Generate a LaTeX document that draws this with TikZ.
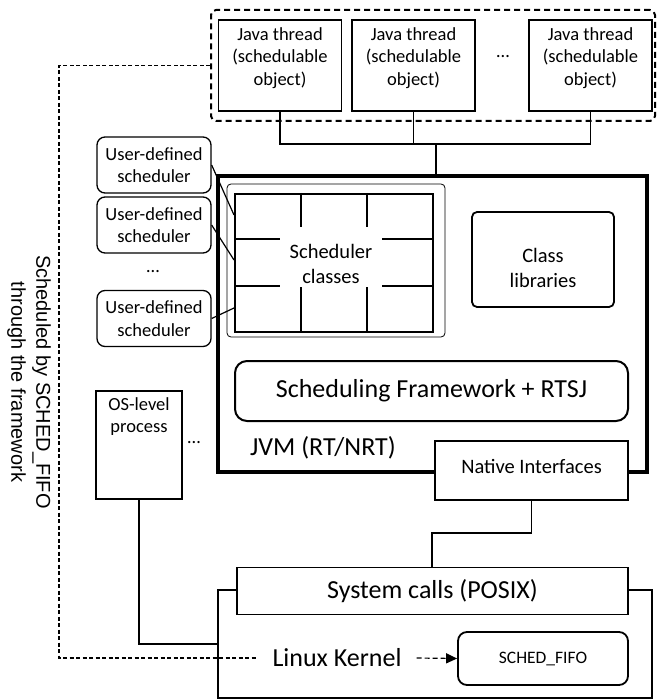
\documentclass[tikz,border=0pt]{standalone}
\usepackage{fontspec}
\setmainfont{Carlito}
\newfontfamily\arialfont{Liberation Sans}
\usetikzlibrary{positioning}
\usetikzlibrary{arrows.meta}

\newcommand{\sizeS}{\fontsize{18.5}{22.5}\selectfont}
\newcommand{\sizeM}{\fontsize{20.5}{25}\selectfont}
\newcommand{\sizeL}{\fontsize{26}{30}\selectfont}

\tikzset{
	jbox/.style={draw, line width=1.6pt, minimum width=123pt, minimum height=91pt, inner sep=0pt},
	jtext/.style={align=center, font=\sizeS, inner sep=2pt},
	ubox/.style={draw, rounded corners=8pt, line width=1.3pt, minimum width=114pt, minimum height=56pt, align=center, inner sep=0pt, font=\sizeS},
	plain/.style={draw, line width=1.8pt, inner sep=0pt},
	link/.style={line width=1.2pt}
}

\begin{document}
\begin{tikzpicture}[x=1pt, y=-1pt]
	\useasboundingbox (0,0) rectangle (657,700);

	\node[draw, dash pattern=on 6pt off 4pt, line width=2pt, rounded corners=5pt, minimum width=444pt, minimum height=111pt] (jt) at (433,65.5) {};
	\node[jbox] (t1) at (280,65.5) {};
	\node[jbox] (t2) at (413.5,65.5) {};
	\node[jbox] (t3) at (590.5,65.5) {};
	\node[jtext, below=6pt of t1.north] (t1txt) {Java thread\\(schedulable\\object)};
	\node[jtext, below=6pt of t2.north] (t2txt) {Java thread\\(schedulable\\object)};
	\node[jtext, below=6pt of t3.north] (t3txt) {Java thread\\(schedulable\\object)};
	\node[font=\sizeS] (tdots) at (503,57) {\ldots};

	\node[draw, line width=3.5pt, minimum width=429pt, minimum height=296pt] (jvm) at (432.5,324) {};
	\coordinate (bus) at (436,144);
	\draw[line width=1.5pt] (t1.south) |- (bus);
	\draw[line width=1.5pt] (t3.south) |- (bus);
	\draw[line width=1.5pt] (t2.south) -- (t2.south |- bus);
	\draw[line width=2.2pt] (bus) -- (bus |- jvm.north);

	\node[draw, line width=0.8pt, rounded corners=4pt, minimum width=218pt, minimum height=153pt] (sc) at (336,260.5) {};
	\node[draw, line width=2pt, minimum width=198pt, minimum height=138pt] (grid) at (334,263) {};
	\foreach \x in {301,367}
		\draw[line width=2pt] (grid.north -| \x,0) -- (grid.south -| \x,0);
	\foreach \y in {239,286}
		\draw[line width=2pt] (grid.west |- 0,\y) -- (grid.east |- 0,\y);
	\node[fill=white, minimum width=102pt, minimum height=60pt, inner sep=0pt] (gap) at (331,257) {};
	\node[align=center, font=\sizeM] (sctxt) at (331,264) {Scheduler\\classes};

	\node[plain, rounded corners=5pt, minimum width=142pt, minimum height=95pt] (cl) at (543,259.5) {};
	\node[align=center, font=\sizeM] (cltxt) at (543,268) {Class\\libraries};
	\node[draw, line width=2pt, rounded corners=12pt, minimum width=393pt, minimum height=60pt, font=\sizeL] (sf) at (431.5,391) {Scheduling Framework + RTSJ};
	\node[font=\sizeL, anchor=west, inner sep=0pt] (jvmtxt) at (250,448) {JVM (RT/NRT)};
	\node[draw, fill=white, line width=2pt, minimum width=193pt, minimum height=59pt] (ni) at (531.5,470.5) {};
	\node[font=\sizeM] (nitxt) at (531.5,466) {Native Interfaces};

	\node[ubox] (u1) at (154,165) {User-defined\\scheduler};
	\node[ubox] (u2) at (154,225) {User-defined\\scheduler};
	\node[font=\sizeS] (udots) at (153,272) {\ldots};
	\node[ubox] (u3) at (154,318.5) {User-defined\\scheduler};
	\draw[link] (u1.east) -- (grid.west |- 0,215);
	\draw[link] (u2.east) -- (grid.west |- 0,260);
	\draw[link] (u3.east) -- (grid.west |- 0,308);

	\node[draw, line width=1.5pt, minimum width=86pt, minimum height=108pt] (os) at (139,445) {};
	\node[jtext, below=5pt of os.north] (ostxt) {OS-level\\process};
	\node[font=\sizeS] (odots) at (194,443) {\ldots};

	\node[plain, minimum width=434pt, minimum height=108pt] (kern) at (435,644) {};
	\node[plain, fill=white, minimum width=391pt, minimum height=47pt, font=\sizeL] (sys) at (432.5,591) {System calls (POSIX)};
	\node[font=\sizeL, inner xsep=15pt] (lk) at (337,658) {Linux Kernel};
	\node[plain, rounded corners=9pt, minimum width=170pt, minimum height=53pt, font=\fontsize{17.5}{21}\selectfont] (fifo) at (543,658.5) {SCHED\_FIFO};
	\draw[line width=1.2pt, dash pattern=on 5pt off 3pt, -{Triangle[length=11pt,width=10pt]}] (lk.east) -- (fifo.west);

	\coordinate (nibend) at (432,533);
	\draw[link] (ni.south) |- (nibend) -- (nibend |- sys.north);
	\draw[link] (os.south) |- (kern.west);

	\coordinate (side) at (59,0);
	\draw[line width=1.2pt, dash pattern=on 4pt off 2.5pt] (jt.west) -| (side |- lk.west) -- (lk.west);
	\node[rotate=-90, align=center, font=\arialfont\fontsize{20}{25}\selectfont] (note) at (29,382) {Scheduled by SCHED\_FIFO\\through the framework};
\end{tikzpicture}
\end{document}
